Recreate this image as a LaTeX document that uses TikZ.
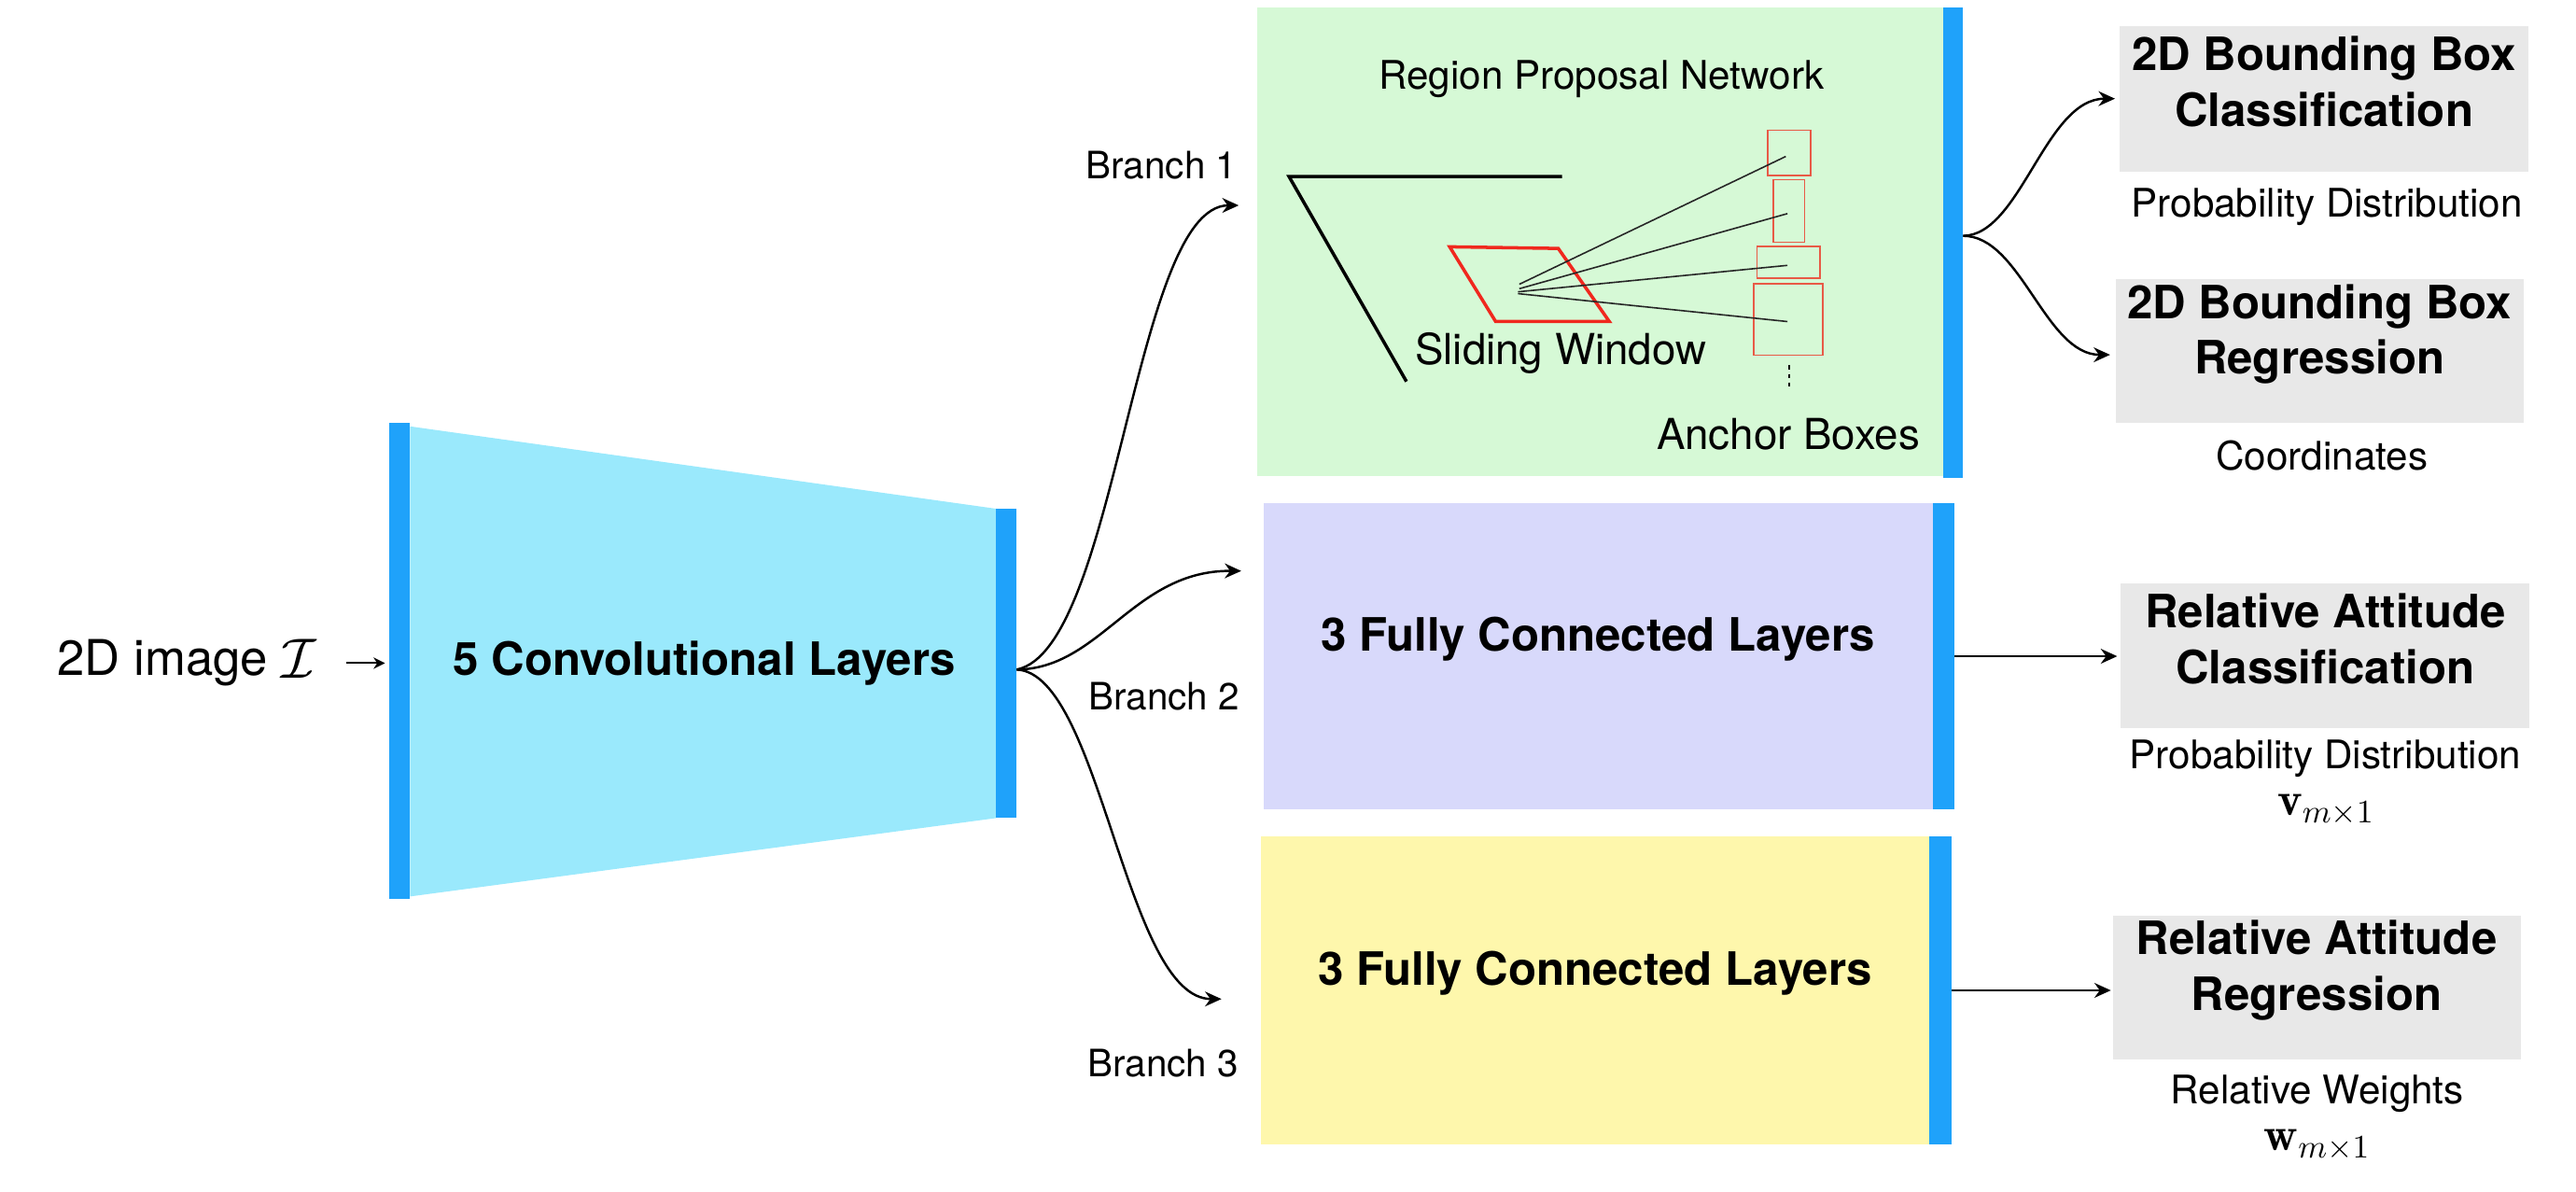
\documentclass[tikz,border=0pt]{standalone}
\usepackage{fontspec}
\newfontfamily\hv{TeX Gyre Heros}
\usetikzlibrary{arrows.meta,fit}
\definecolor{barblue}{RGB}{31,162,250}
\definecolor{convcyan}{RGB}{154,233,252}
\definecolor{rpngreen}{RGB}{214,249,214}
\definecolor{fcpurple}{RGB}{216,217,251}
\definecolor{fcyellow}{RGB}{254,247,172}
\definecolor{outgray}{RGB}{232,232,232}
\definecolor{anchorred}{RGB}{232,90,70}
\definecolor{winred}{RGB}{240,40,30}
\begin{document}
\begin{tikzpicture}[x=0.176mm,y=-0.176mm,
  bar/.style={fill=barblue,inner sep=0pt,outer sep=0pt},
  panel/.style={inner sep=0pt,outer sep=0pt},
  outbox/.style={fill=outgray,inner sep=0pt,outer sep=0pt,align=center,font=\hv\bfseries\fontsize{14}{17}\selectfont},
  layertext/.style={font=\hv\bfseries\fontsize{14}{17}\selectfont},
  subtext/.style={font=\hv\fontsize{12}{14}\selectfont,inner sep=0pt},
  rpntext/.style={font=\hv\fontsize{13}{15}\selectfont,inner sep=0pt},
  branchlbl/.style={font=\hv\fontsize{11.5}{13}\selectfont,inner sep=0pt},
  inputtext/.style={font=\hv\fontsize{15}{18}\selectfont,inner sep=0pt},
  mathlbl/.style={inner sep=0pt,font=\fontsize{14.4}{16}\selectfont},
  conn/.style={line width=0.7pt,-{Stealth[length=5pt,width=4.5pt]}},
  smallarrow/.style={line width=0.6pt,-{Stealth[length=3.5pt,width=3.5pt]}},
  anchorbox/.style={draw=anchorred,line width=0.5pt},
  ray/.style={line width=0.45pt,black!85}
]
\useasboundingbox (0,0) rectangle (1568,725);

% ---- convolutional block
\fill[convcyan] (249.6,259.5) -- (606.2,309.6) -- (606.2,497.9) -- (249.6,545.6) -- cycle;
\node[bar, fit={(236.9,257.5) (249.6,547.2)}] (convL) {};
\node[bar, fit={(606.2,309.6) (618.9,497.9)}] (convR) {};
\node[layertext] (convtxt) at (428.7,403.6) {5 Convolutional Layers};

% ---- input
\node[inputtext, anchor=west] (img) at (34.5,403.6) {2D image};
\node[inner sep=0pt, anchor=west] (imgI) at (171,401) {\fontsize{17.28}{20}\selectfont$\mathcal{I}$};
\coordinate (arrS) at (210.5,403.6);
\draw[smallarrow, shorten >=0.45mm] (arrS) -- (arrS -| convL.west);

% ---- branch panels
\node[panel, fill=rpngreen, fit={(765.5,4.5) (1183,289.5)}] (rpn) {};
\node[bar, fit={(1183,4.5) (1195,291)}] (rpnbar) {};
\node[panel, fill=fcpurple, fit={(769,306) (1176.5,492.8)}, layertext] (fc2) {3 Fully Connected Layers};
\node[bar, fit={(1176.5,306) (1189.5,492.8)}] (fc2bar) {};
\node[panel, fill=fcyellow, fit={(767.5,509.2) (1174.5,696.3)}, layertext] (fc3) {3 Fully Connected Layers};
\node[bar, fit={(1174.5,509.2) (1188,696.3)}] (fc3bar) {};

% ---- RPN content
\node[font=\hv\fontsize{12}{14}\selectfont, inner sep=0pt] (rpntitle) at (974.8,48) {Region Proposal Network};
\draw[line width=1pt] (950.8,107.4) -- (784.6,107.4) -- (856.1,232.2);
\draw[winred, line width=1pt, line join=miter] (882.4,150.2) -- (948.5,151.2) -- (979.6,195.7) -- (910.4,195.7) -- cycle;
\draw[anchorbox] (1075.8,79.2) rectangle (1102.3,106.9);
\draw[anchorbox] (1079.4,109.3) rectangle (1098.4,147.4);
\draw[anchorbox] (1069.5,149.9) rectangle (1108.0,169.3);
\draw[anchorbox] (1067.3,172.5) rectangle (1109.7,216.2);
\draw[ray] (924.8,173) -- (1087,95.2);
\draw[ray] (924.8,175.7) -- (1088,130);
\draw[ray] (924,177.6) -- (1088,161.5);
\draw[ray] (924,178.7) -- (1088,195.7);
\draw[line width=0.6pt, dash pattern=on 1.3pt off 1.3pt] (1089.3,222.4) -- (1089.3,237.9);
\node[rpntext] (slide) at (950,215) {Sliding Window};
\node[rpntext] (anch) at (1088.5,264) {Anchor Boxes};

% ---- branch connectors
\coordinate (split) at ([yshift=-0.66mm]convR.east);
\coordinate (b1end) at (754,125);
\coordinate (b2end) at (755.5,347.5);
\coordinate (b3end) at (743.5,608);
\draw[conn] (split) .. controls (680,395) and (690,125) .. (b1end);
\draw[conn] (split) .. controls (670,407) and (690,347) .. (b2end);
\draw[conn] (split) .. controls (670,410) and (685,608) .. (b3end);
\node[branchlbl] (br1) at (707,100.5) {Branch 1};
\node[branchlbl] (br2) at (708.5,424) {Branch 2};
\node[branchlbl] (br3) at (708,647) {Branch 3};

% ---- outputs
\node[outbox, fit={(1290.2,15.7) (1539.1,104.4)}] (out1) {2D Bounding Box\\Classification};
\node[outbox, fit={(1287.8,170) (1535.9,257.6)}] (out2) {2D Bounding Box\\Regression};
\node[outbox, fit={(1291,355.1) (1539.8,443)}] (out3) {Relative Attitude\\Classification};
\node[outbox, fit={(1286,557.2) (1534.2,644.6)}] (out4) {Relative Attitude\\Regression};

\node[subtext] (s1) at (1416.4,126) {Probability Distribution};
\node[subtext] (s2) at (1413.4,277.2) {Coordinates};
\node[subtext] (s3) at (1415.4,461.8) {Probability Distribution};
\node[mathlbl] (s3m) at (1415.9,493) {$\mathbf{v}_{m\times 1}$};
\node[subtext] (s4) at (1410.5,665.6) {Relative Weights};
\node[mathlbl] (s4m) at (1410.5,697) {$\mathbf{w}_{m\times 1}$};

% ---- output connectors
\coordinate (rpnout) at ([yshift=0.74mm]rpnbar.east);
\draw[conn, shorten >=0.5mm] (rpnout) .. controls (1230,143) and (1245,60) .. (out1.west);
\draw[conn, shorten >=0.6mm] (rpnout) .. controls (1230,143.5) and (1245,216) .. ([yshift=-0.37mm]out2.west);
\draw[conn, shorten >=0.4mm] (fc2bar.east) -- (fc2bar.east -| out3.west);
\draw[conn, shorten >=0.2mm] (fc3bar.east) -- (fc3bar.east -| out4.west);
\end{tikzpicture}
\end{document}
